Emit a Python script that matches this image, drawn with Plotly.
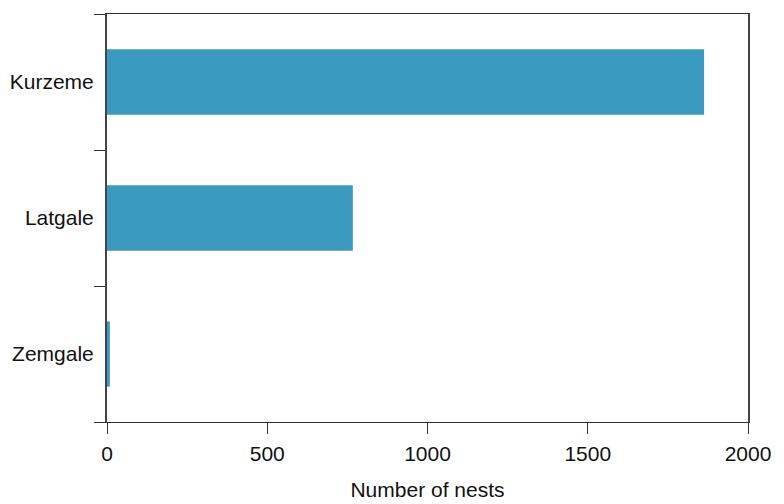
import plotly.graph_objects as go

# Nest counts per region
regions = ["Kurzeme", "Latgale", "Zemgale"]
nests = [1863, 767, 9]

x_ticks = [0, 500, 1000, 1500, 2000]

bar_color = "rgb(58,154,192)"
font_family = "Liberation Sans, Arial, Helvetica, sans-serif"

fig = go.Figure(
    go.Bar(
        x=nests,
        y=regions,
        orientation="h",
        width=0.48,
        marker=dict(color=bar_color, line=dict(width=0)),
    )
)

fig.update_layout(
    width=784,
    height=504,
    margin=dict(l=107, r=36, t=14, b=82, autoexpand=False),
    plot_bgcolor="white",
    paper_bgcolor="white",
    font=dict(family=font_family, size=21, color="#111"),
    showlegend=False,
)

fig.update_xaxes(
    range=[0, 2000],
    tickvals=x_ticks,
    ticktext=[str(v) for v in x_ticks],
    ticks="outside",
    ticklen=11,
    tickwidth=1,
    tickcolor="#333",
    ticklabelstandoff=2,
    showgrid=False,
    zeroline=False,
    showline=True,
    linecolor="#333",
    linewidth=1,
    mirror=True,
    automargin=False,
    title=dict(text="Number of nests", standoff=18, font=dict(size=21)),
)

fig.update_yaxes(
    categoryorder="array",
    categoryarray=regions[::-1],
    range=[-0.5, 2.5],
    tickson="boundaries",
    ticks="outside",
    ticklen=11,
    tickwidth=1,
    tickcolor="#333",
    ticklabelstandoff=7,
    showgrid=False,
    zeroline=False,
    showline=True,
    linecolor="#444",
    linewidth=2,
    mirror=True,
    automargin=False,
)

fig.write_html("out.html")
